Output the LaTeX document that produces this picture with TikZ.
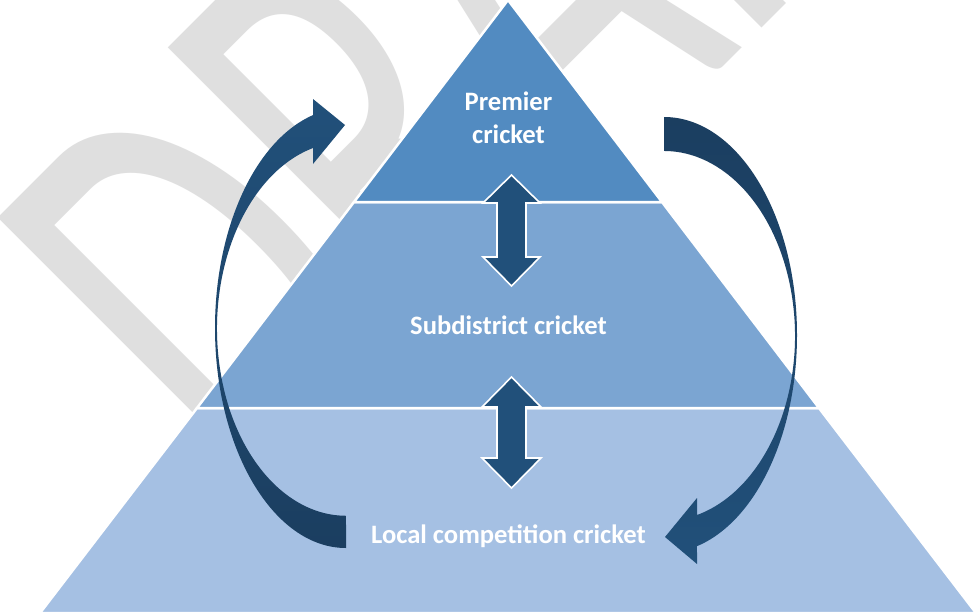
\documentclass[tikz,border=0pt]{standalone}
\usepackage{fontspec}
\setmainfont{Carlito}
\newfontfamily\wmfamily{Carlito}
\definecolor{lvtop}{RGB}{82,139,193}
\definecolor{lvmid}{RGB}{123,165,210}
\definecolor{lvbot}{RGB}{165,192,227}
\definecolor{arrowcol}{RGB}{33,80,122}
\definecolor{arrowdark}{RGB}{27,62,96}
\definecolor{wmcol}{RGB}{223,223,223}
\tikzset{
  layer/.style={draw=white, line width=2.5pt, line join=miter},
  dblarrow/.style={fill=arrowcol, draw=white, line width=1.6pt, line join=miter},
  label/.style={text=white, font=\fontsize{26.6}{32}\selectfont\bfseries, inner sep=0pt, anchor=base},
  watermark/.style={text=wmcol, font=\wmfamily\fontsize{388}{400}\selectfont, inner sep=0pt, anchor=base west, transform shape}
}
\begin{document}
\begin{tikzpicture}[x=1pt, y=-1pt]
\useasboundingbox (0,0) rectangle (976,613);
\fill[white] (0,0) rectangle (976,613);
% watermark
\begin{scope}
\clip (0,0) rectangle (976,613);
\begin{scope}[shift={(289,501)}, rotate=45, yscale=1.63]
\node[watermark] (wm) at (-32,0) {DRAFT};
\end{scope}
\end{scope}
% pyramid layers
\coordinate (apex) at (508,0);
\coordinate (l1) at (354,202);
\coordinate (r1) at (662,202);
\coordinate (l2) at (197,408);
\coordinate (r2) at (819,408);
\coordinate (l3) at (40,613);
\coordinate (r3) at (976,613);
\path[layer, fill=lvbot] (l2) -- (r2) -- (r3) -- (l3) -- cycle;
\path[layer, fill=lvmid] (l1) -- (r1) -- (r2) -- (l2) -- cycle;
\path[layer, fill=lvtop] (apex) -- (r1) -- (l1) -- cycle;
% double arrows
\path[dblarrow] (511.5,175) -- (540,203) -- (526,203) -- (526,257) -- (540,257) -- (511.5,286)
  -- (483,257) -- (497,257) -- (497,203) -- (483,203) -- cycle;
\path[dblarrow] (511.5,377) -- (541,407) -- (526,407) -- (526,458) -- (541,458) -- (511.5,488)
  -- (482,458) -- (497,458) -- (497,407) -- (482,407) -- cycle;
% curved arrows
\path[top color=arrowcol, bottom color=arrowdark]
  (346,548) arc[start angle=270, end angle=104.59, x radius=131pt, y radius=220pt]
  -- (313,99) -- (345,125) -- (313,164) -- (313,148)
  arc[start angle=104.82, end angle=270, x radius=129pt, y radius=187pt] -- cycle;
\path[top color=arrowdark, bottom color=arrowcol]
  (664,117) arc[start angle=90, end angle=-75.64, x radius=133pt, y radius=218pt]
  -- (697,564) -- (665,537) -- (697,498) -- (697,515)
  arc[start angle=-75.41, end angle=90, x radius=131pt, y radius=185pt] -- cycle;
% labels
\node[label] (premierA) at (508.5,110) {Premier};
\node[label] (premierB) at (508.5,143) {cricket};
\node[label] (subdistrict) at (508.5,334) {Subdistrict cricket};
\node[label] (local) at (508.5,543) {Local competition cricket};
\end{tikzpicture}
\end{document}
